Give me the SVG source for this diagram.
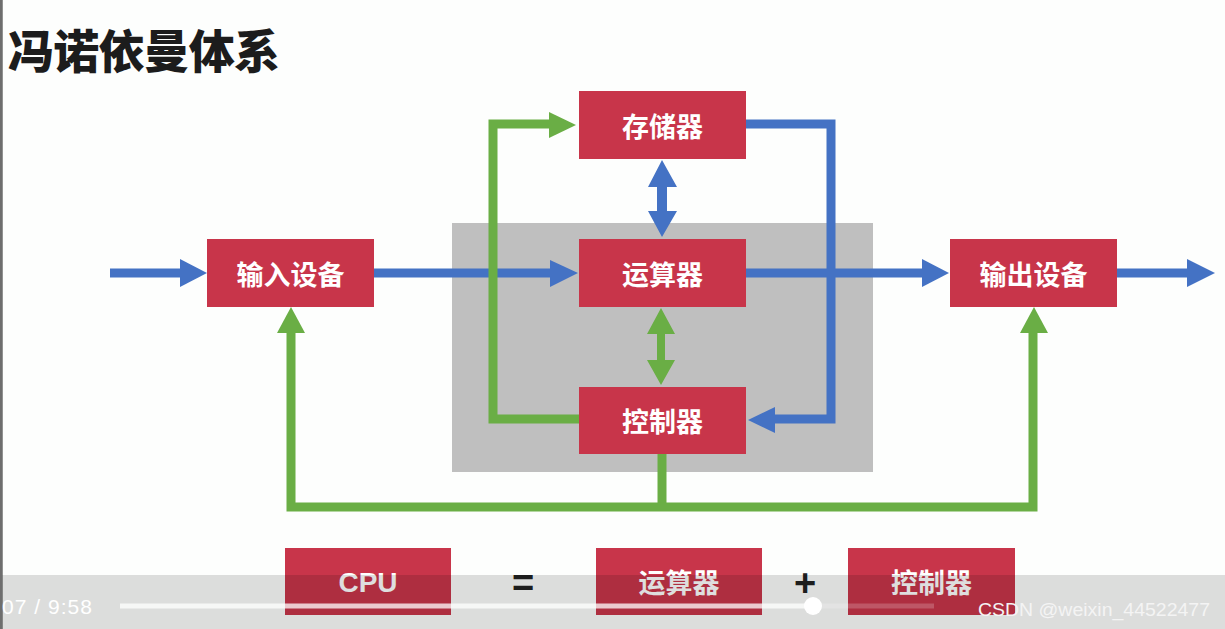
<svg xmlns="http://www.w3.org/2000/svg" width="1225" height="629" viewBox="0 0 1225 629">
<style>
.box{fill:#c8354a}
.lbl{fill:#ffffff;font-family:"Noto Sans CJK SC","Noto Sans",sans-serif;font-weight:700;font-size:27px;text-anchor:middle;dominant-baseline:central}
.blue{fill:none;stroke:#4472c4;stroke-width:9}
.green{fill:none;stroke:#6aae45;stroke-width:9}
.bh{fill:#4472c4}
.gh{fill:#6aae45}
</style>
<rect width="1225" height="629" fill="#fdfefd"/>
<rect x="0" y="0" width="2.5" height="629" fill="#6e6e6e"/>
<text x="8" y="47.5" font-family="'Noto Sans CJK SC',sans-serif" font-weight="900" font-size="46" fill="#1c1c1c" dominant-baseline="central" textLength="272" lengthAdjust="spacing">冯诺依曼体系</text>

<rect id="cpu-area" x="452" y="223" width="421" height="249" fill="#bfbfbf"/>

<g id="connectors">
  <line class="blue" x1="110" y1="273" x2="182" y2="273"/>
  <polygon class="bh" points="180,259 207,273 180,287"/>
  <line class="blue" x1="374" y1="273" x2="552" y2="273"/>
  <polygon class="bh" points="550,260 578,273 550,287"/>
  <line class="blue" x1="745" y1="273" x2="924" y2="273"/>
  <polygon class="bh" points="922,259 949,273 922,287"/>
  <line class="blue" x1="1117" y1="273" x2="1189" y2="273"/>
  <polygon class="bh" points="1187,259 1215,273 1187,287"/>
  <polyline class="blue" points="745,124 831,124 831,419 773,419"/>
  <polygon class="bh" points="775,407 748,420 775,433"/>
  <polygon class="bh" points="662,160 677,187 667,187 667,211 677,211 662,237 648,211 657,211 657,187 648,187"/>
  <polygon class="gh" points="661,308 675,334 665,334 665,360 675,360 661,385 647,360 657,360 657,334 647,334"/>
  <polyline class="green" points="579,419 493,419 493,124 551,124"/>
  <polygon class="gh" points="549,112 576,125 549,138"/>
  <polyline class="green" points="662,454 662,507"/>
  <polyline class="green" points="291,331 291,507 1033,507 1033,331"/>
  <polygon class="gh" points="277,333 291,307 305,333"/>
  <polygon class="gh" points="1020,333 1034,307 1048,333"/>
</g>

<g id="memory"><rect class="box" x="579" y="91" width="167" height="68"/><text class="lbl" x="662.5" y="125">存储器</text></g>
<g id="alu"><rect class="box" x="579" y="239" width="167" height="68"/><text class="lbl" x="662.5" y="273">运算器</text></g>
<g id="controller"><rect class="box" x="579" y="387" width="167" height="67"/><text class="lbl" x="662.5" y="420.5">控制器</text></g>
<g id="input"><rect class="box" x="207" y="239" width="167" height="68"/><text class="lbl" x="290.5" y="273">输入设备</text></g>
<g id="output"><rect class="box" x="950" y="239" width="167" height="68"/><text class="lbl" x="1033.5" y="273">输出设备</text></g>

<g id="formula">
  <g id="cpu"><rect class="box" x="285" y="548" width="166" height="67"/><text x="368" y="592" font-family="'Liberation Sans',Arial,sans-serif" font-weight="700" font-size="28" fill="#ffffff" text-anchor="middle">CPU</text></g>
  <text x="523" y="596" font-family="'Liberation Sans',Arial,sans-serif" font-weight="700" font-size="38" fill="#222" text-anchor="middle">=</text>
  <g id="alu2"><rect class="box" x="596" y="548" width="166" height="67"/><text class="lbl" x="679" y="581.5">运算器</text></g>
  <text x="805" y="596" font-family="'Liberation Sans',Arial,sans-serif" font-weight="700" font-size="38" fill="#222" text-anchor="middle">+</text>
  <g id="ctrl2"><rect class="box" x="848" y="548" width="167" height="67"/><text class="lbl" x="931.5" y="581.5">控制器</text></g>
</g>

<g id="player-overlay">
  <rect x="0" y="575" width="1225" height="54" fill="#000" fill-opacity="0.13"/>
  <rect x="0" y="0" width="2.5" height="629" fill="#6e6e6e"/>
  <line x1="120" y1="606" x2="813" y2="606" stroke="#ffffff" stroke-opacity="0.75" stroke-width="5"/>
  <line x1="813" y1="606" x2="934" y2="606" stroke="#ffffff" stroke-opacity="0.2" stroke-width="5"/>
  <circle cx="813" cy="606" r="9" fill="#ffffff"/>
  <text x="2" y="614" font-family="'Liberation Sans',Arial,sans-serif" font-size="21" fill="#ffffff" textLength="90" lengthAdjust="spacing">07 / 9:58</text>
  <text x="978" y="616" font-family="'Liberation Sans',Arial,sans-serif" font-size="18" fill="#f4f4f4" textLength="232" lengthAdjust="spacingAndGlyphs">CSDN @weixin_44522477</text>
</g>
</svg>
